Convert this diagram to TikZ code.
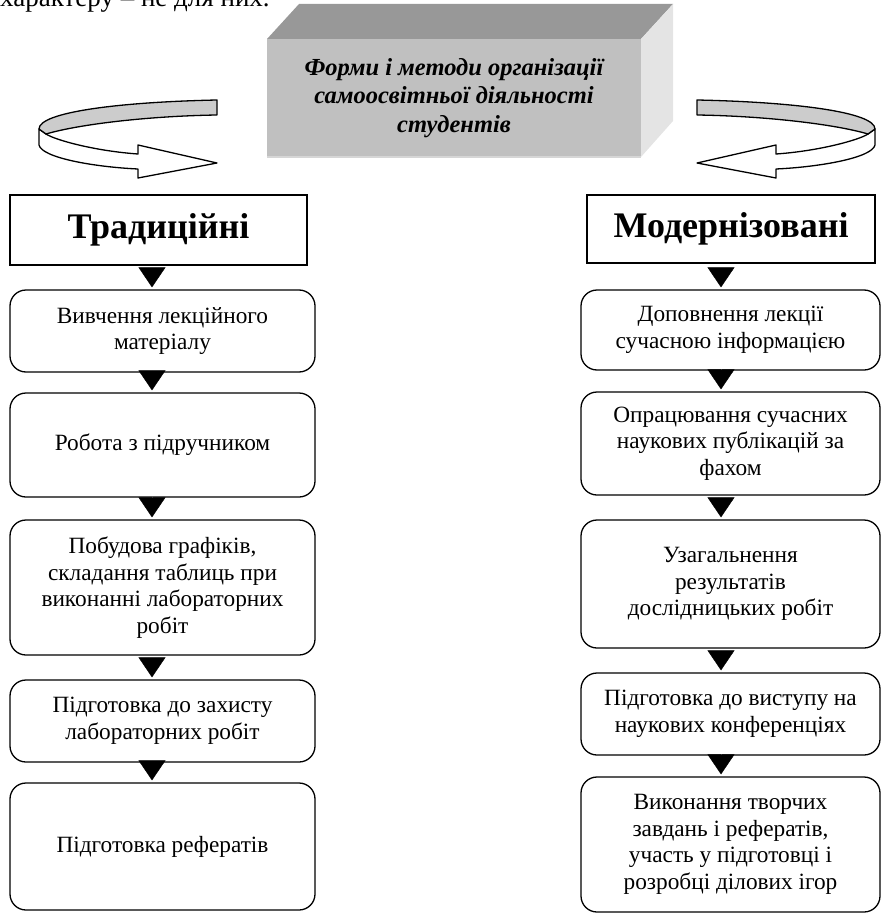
\documentclass[tikz,border=0pt]{standalone}
\usepackage{fontspec}
\setmainfont{Liberation Serif}
\usetikzlibrary{arrows.meta,calc}
\definecolor{boxtop}{RGB}{152,152,152}
\definecolor{boxfront}{RGB}{192,192,192}
\definecolor{boxside}{RGB}{228,228,228}
\definecolor{boxedge}{RGB}{214,214,214}
\definecolor{band}{RGB}{204,204,204}
\begin{document}
\begin{tikzpicture}[x=1pt,y=-1pt,
  hbox/.style={draw, line width=1.3pt, inner sep=0pt,
    font=\fontsize{36}{42}\selectfont\bfseries},
  rbox/.style={draw, line width=1.3pt, rounded corners=16pt, inner sep=0pt,
    align=center, font=\fontsize{23.3}{26.5}\selectfont},
  flow/.style={draw=white, line width=0.4pt, shorten <=1pt, shorten >=2pt,
    -{Triangle[length=20pt,width=27pt,color=black]}},
  ribbon/.style={draw, line width=1.3pt, line join=round}]
\clip (0,0) rectangle (882,915);

% last line of the preceding paragraph
\node[anchor=base west, inner sep=0pt, font=\fontsize{27}{30}\selectfont]
  (prev) at (0,7) {характеру – не для них.};

% 3D title block
\fill[boxtop] (267,39) -- (641,39) -- (673,4) -- (299,4) -- cycle;
\fill[boxside] (641,39) -- (673,4) -- (673,121) -- (641,157) -- cycle;
\node[fill=boxfront, minimum width=374pt, minimum height=118pt, inner sep=0pt,
  align=center, font=\fontsize{24.5}{28.5}\selectfont\bfseries\itshape]
  (title) at (454,98) {Форми і методи організації\\самоосвітньої діяльності\\студентів};
\draw[boxedge, line width=2pt] (title.south west) -- (title.south east);

% curved ribbon arrow on the left, mirrored copy on the right
\foreach \xs/\xo in {1/0, -1/914} {
\begin{scope}[xshift=\xo pt, xscale=\xs]
  \path[ribbon, fill=white] (39,129) -- (39,145)
    .. controls (42,158) and (95,167) .. (138,169)
    -- (138,178) -- (217,163) -- (138,145) -- (138,154)
    .. controls (95,151) and (55,140) .. (46,134) -- cycle;
  \path[ribbon, fill=band] (217,100)
    .. controls (120,102) and (39,112) .. (39,129)
    -- (46,134)
    .. controls (80,124) and (150,116) .. (217,115) -- cycle;
\end{scope}
}

% column headers
\node[hbox, minimum width=297pt, minimum height=70pt] (trad) at (158.5,230) {Традиційні};
\node[hbox, minimum width=288pt, minimum height=68pt] (modn) at (731,229) {Модернізовані};

% traditional forms
\node[rbox, minimum width=305pt, minimum height=82pt]  (l1) at (162.5,331)   {Вивчення лекційного\\матеріалу};
\node[rbox, minimum width=305pt, minimum height=104pt] (l2) at (162.5,445)   {Робота з підручником};
\node[rbox, minimum width=305pt, minimum height=135pt] (l3) at (162.5,587.5) {Побудова графіків,\\складання таблиць при\\виконанні лабораторних\\робіт};
\node[rbox, minimum width=305pt, minimum height=82pt]  (l4) at (162.5,721)   {Підготовка до захисту\\лабораторних робіт};
\node[rbox, minimum width=305pt, minimum height=127pt] (l5) at (162.5,846.5) {Підготовка рефератів};

% modernised forms
\node[rbox, minimum width=299pt, minimum height=80pt]  (r1) at (730.5,330)   {Доповнення лекції\\сучасною інформацією};
\node[rbox, minimum width=299pt, minimum height=103pt] (r2) at (730.5,443.5) {Опрацювання сучасних\\наукових публікацій за\\фахом};
\node[rbox, minimum width=299pt, minimum height=128pt] (r3) at (730.5,584)   {Узагальнення\\результатів\\дослідницьких робіт};
\node[rbox, minimum width=299pt, minimum height=82pt]  (r4) at (730.5,714)   {Підготовка до виступу на\\наукових конференціях};
\node[rbox, minimum width=299pt, minimum height=135pt] (r5) at (730.5,844.5) {Виконання творчих\\завдань і рефератів,\\участь у підготовці і\\розробці ділових ігор};

% connectors
\draw[flow] ([xshift=-6.5pt]trad.south) -- ([xshift=-10.5pt]l1.north);
\draw[flow] ([xshift=-10.5pt]l1.south) -- ([xshift=-10.5pt]l2.north);
\draw[flow] ([xshift=-10.5pt]l2.south) -- ([xshift=-10.5pt]l3.north);
\draw[flow] ([xshift=-10.5pt]l3.south) -- ([xshift=-10.5pt]l4.north);
\draw[flow] ([xshift=-10.5pt]l4.south) -- ([xshift=-10.5pt]l5.north);
\draw[flow] ([xshift=-10pt]modn.south) -- ([xshift=-9.5pt]r1.north);
\draw[flow] ([xshift=-9.5pt]r1.south) -- ([xshift=-9.5pt]r2.north);
\draw[flow] ([xshift=-9.5pt]r2.south) -- ([xshift=-9.5pt]r3.north);
\draw[flow] ([xshift=-9.5pt]r3.south) -- ([xshift=-9.5pt]r4.north);
\draw[flow] ([xshift=-9.5pt]r4.south) -- ([xshift=-9.5pt]r5.north);
\end{tikzpicture}
\end{document}
